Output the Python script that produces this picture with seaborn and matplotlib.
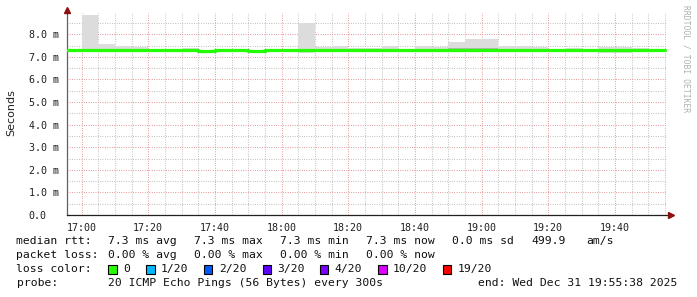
import matplotlib
matplotlib.use("Agg")
import matplotlib.pyplot as plt
import seaborn as sns
import numpy as np
import pandas as pd
from matplotlib.patches import Rectangle

# ---------------- data ----------------
slot_start = ["16:55", "17:00", "17:05", "17:10", "17:15", "17:20", "17:25", "17:30", "17:35",
              "17:40", "17:45", "17:50", "17:55", "18:00", "18:05", "18:10", "18:15", "18:20",
              "18:25", "18:30", "18:35", "18:40", "18:45", "18:50", "18:55", "19:00", "19:05",
              "19:10", "19:15", "19:20", "19:25", "19:30", "19:35", "19:40", "19:45", "19:50"]
slot_end_last = "19:55"
median_ms = [7.30, 7.31, 7.30, 7.30, 7.30, 7.30, 7.30, 7.30, 7.25, 7.29, 7.29, 7.25, 7.30, 7.30,
             7.30, 7.30, 7.30, 7.30, 7.30, 7.30, 7.30, 7.30, 7.30, 7.30, 7.30, 7.30, 7.30, 7.30,
             7.30, 7.30, 7.30, 7.30, 7.30, 7.30, 7.30, 7.29]
smoke_hi = [7.33, 8.85, 7.57, 7.50, 7.42, 7.34, 7.35, 7.38, 7.32, 7.35, 7.36, 7.30, 7.34, 7.33,
            8.48, 7.42, 7.49, 7.40, 7.40, 7.49, 7.36, 7.47, 7.44, 7.67, 7.79, 7.79, 7.47, 7.47,
            7.42, 7.36, 7.38, 7.34, 7.45, 7.45, 7.40, 7.33]
smoke_lo = [7.27, 7.22, 7.22, 7.20, 7.20, 7.26, 7.26, 7.22, 7.20, 7.24, 7.24, 7.22, 7.25, 7.26,
            7.15, 7.24, 7.25, 7.22, 7.26, 7.26, 7.25, 7.25, 7.24, 7.24, 7.26, 7.26, 7.25, 7.20,
            7.20, 7.26, 7.25, 7.26, 7.15, 7.15, 7.22, 7.27]
inner_hi = [7.32, 7.36, 7.34, 7.34, 7.34, 7.32, 7.32, 7.36, 7.29, 7.32, 7.32, 7.28, 7.32, 7.32,
            7.36, 7.34, 7.36, 7.34, 7.33, 7.36, 7.32, 7.36, 7.35, 7.38, 7.40, 7.40, 7.36, 7.35,
            7.33, 7.32, 7.34, 7.32, 7.36, 7.36, 7.34, 7.31]
inner_lo = [7.28, 7.24, 7.25, 7.25, 7.26, 7.28, 7.28, 7.27, 7.22, 7.26, 7.26, 7.23, 7.28, 7.28,
            7.24, 7.27, 7.27, 7.25, 7.28, 7.27, 7.27, 7.27, 7.26, 7.26, 7.27, 7.27, 7.26, 7.24,
            7.24, 7.28, 7.27, 7.28, 7.22, 7.22, 7.25, 7.28]

x_tick_labels = ["17:00", "17:20", "17:40", "18:00", "18:20", "18:40", "19:00", "19:20", "19:40"]
y_tick_values = [0, 1, 2, 3, 4, 5, 6, 7, 8]
y_tick_labels = ["0.0", "1.0 m", "2.0 m", "3.0 m", "4.0 m", "5.0 m", "6.0 m", "7.0 m", "8.0 m"]

loss_labels = ["0", "1/20", "2/20", "3/20", "4/20", "10/20", "19/20"]
loss_colors = ["#26ff00", "#00b8ff", "#0059ff", "#5e00ff", "#7e00ff", "#dd00ff", "#ff0000"]

view_start = "16:55:38"
view_end = "19:55:38"


def to_min(s):
    parts = [float(p) for p in s.split(":")]
    m = parts[0] * 60 + parts[1]
    if len(parts) > 2:
        m += parts[2] / 60
    return m


# ---------------- figure ----------------
sns.set_style("white")
plt.rcParams["font.family"] = ["DejaVu Sans Mono", "DejaVu Sans"]

W, H = 697, 297
fig = plt.figure(figsize=(W / 100, H / 100), dpi=100)
fig.patch.set_facecolor("white")
ax = fig.add_axes([67 / W, (H - 215) / H, 600 / W, 202 / H])

x0 = np.array([to_min(s) for s in slot_start])
x1 = np.append(x0[1:], to_min(slot_end_last))
widths = x1 - x0

df = pd.DataFrame({"t": x0, "median": median_ms})
df_line = pd.concat([df, pd.DataFrame({"t": [to_min(slot_end_last)], "median": [median_ms[-1]]})],
                    ignore_index=True)

# smoke
ax.bar(x0, np.array(smoke_hi) - np.array(smoke_lo), bottom=smoke_lo, width=widths,
       align="edge", color="#dcdcdc", linewidth=0, zorder=2)
ax.bar(x0, np.array(inner_hi) - np.array(inner_lo), bottom=inner_lo, width=widths,
       align="edge", color="#b4b4b4", linewidth=0, zorder=2.1)

# median line
sns.lineplot(data=df_line, x="t", y="median", ax=ax, color="#22ff00", linewidth=2.3,
             drawstyle="steps-post", zorder=3)

xmin, xmax = to_min(view_start), to_min(view_end)
ax.set_xlim(xmin, xmax)
ax.set_ylim(0, 8.94)

# grid
major_x = [to_min(s) for s in x_tick_labels]
minor_x = [to_min(s) for s in slot_start[1:]] + [to_min(slot_end_last)]
ax.set_xticks(major_x)
ax.set_xticklabels(x_tick_labels)
ax.set_xticks(minor_x, minor=True)
ax.set_yticks(y_tick_values)
ax.set_yticklabels(y_tick_labels)
ax.set_yticks(np.arange(0.5, 8.6, 1.0), minor=True)

ax.grid(which="minor", color="#b4b4b4", linewidth=0.75, linestyle=(0, (0.75, 1.5)), zorder=1)
ax.grid(which="major", color="#e08585", linewidth=0.75, linestyle=(0, (0.75, 1.5)), zorder=1)
ax.set_axisbelow(True)

ax.tick_params(axis="x", which="major", length=2, color="#606060", pad=4, labelsize=7.2,
               labelcolor="#202020")
ax.tick_params(axis="x", which="minor", length=0)
ax.tick_params(axis="y", which="both", length=0, labelsize=7.2, labelcolor="#202020", pad=27.5)
for lab in ax.get_yticklabels():
    lab.set_horizontalalignment("left")

for sp in ["top", "right"]:
    ax.spines[sp].set_visible(False)
ax.spines["left"].set_color("#606060")
ax.spines["bottom"].set_color("#202020")
ax.spines["left"].set_linewidth(0.9)
ax.spines["bottom"].set_linewidth(0.9)
ax.set_xlabel("")
ax.set_ylabel("")

# axis arrows
ax.plot([0], [1.0 + 3 / 202], marker="^", color="#8b1010", markersize=4, transform=ax.transAxes,
        clip_on=False, zorder=5)
ax.plot([1.0 + 4 / 600], [0], marker=">", color="#8b1010", markersize=4, transform=ax.transAxes,
        clip_on=False, zorder=5)

# y label and watermark
fig.text(11 / W, 1 - 113 / H, "Seconds", rotation=90, ha="center", va="center",
         fontsize=8, family="DejaVu Sans", color="#202020")
fig.text(686 / W, 1 - 5 / H, "RRDTOOL / TOBI OETIKER", rotation=-90, ha="center", va="top",
         fontsize=5.8, color="#b0b0b0")

# legend text
fs = 8.2


def put(xpx, ypx, s, **kw):
    fig.text(xpx / W, 1 - ypx / H, s, ha="left", va="center", fontsize=fs, color="#101010", **kw)


y1, y2, y3, y4 = 241, 255.5, 269, 283
put(16.5, y1, "median rtt:")
for xp, s in zip([107.7, 193.6, 279.5, 365.8, 451.7, 531, 586.6],
                 ["7.3 ms avg", "7.3 ms max", "7.3 ms min", "7.3 ms now", "0.0 ms sd", "499.9", "am/s"]):
    put(xp, y1, s)
put(16.5, y2, "packet loss:")
for xp, s in zip([107.7, 193.6, 279.5, 365.8],
                 ["0.00 % avg", "0.00 % max", "0.00 % min", "0.00 % now"]):
    put(xp, y2, s)
put(16.5, y3, "loss color:")
sq_x = [108, 146, 203.8, 262.6, 319.5, 378.3, 442.8]
lab_x = [123.7, 161, 219, 276.8, 334.7, 392.5, 457.5]
for sx, lx, lab, c in zip(sq_x, lab_x, loss_labels, loss_colors):
    fig.patches.append(Rectangle((sx / W, 1 - (y3 + 4.5) / H), 8.5 / W, 9 / H,
                                 transform=fig.transFigure, facecolor=c, edgecolor="#000000",
                                 linewidth=0.8))
    put(lx, y3, lab)
put(16.5, y4, "probe:")
put(107.7, y4, "20 ICMP Echo Pings (56 Bytes) every 300s")
put(478.4, y4, "end: Wed Dec 31 19:55:38 2025")

fig.savefig("out.png", dpi=100, facecolor="white")
